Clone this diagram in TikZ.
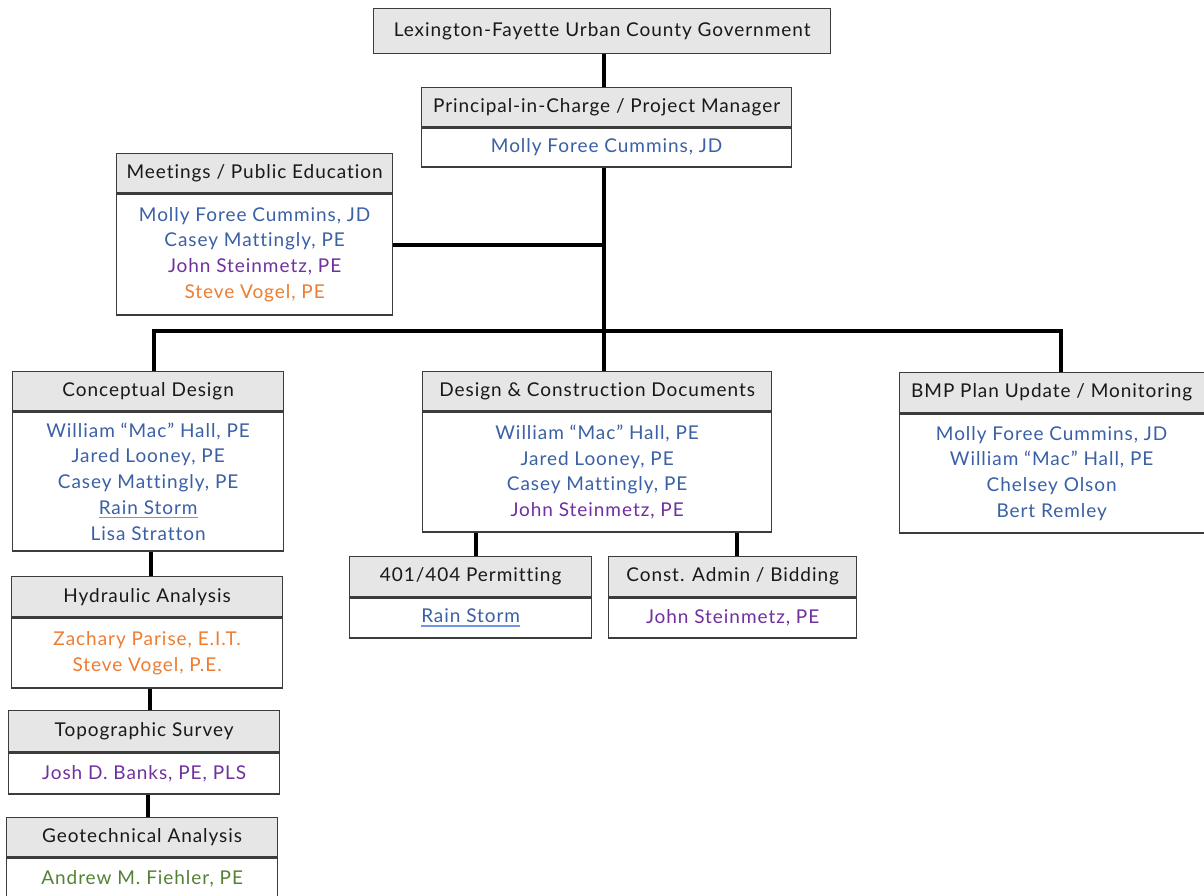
\documentclass[tikz,border=0pt]{standalone}
\usepackage{fontspec}
\newfontfamily\chartfont{Lato}[LetterSpace=5, Ligatures=NoCommon]
\definecolor{hdrfill}{RGB}{230,230,230}
\definecolor{boxline}{RGB}{60,60,60}
\definecolor{pblue}{RGB}{58,96,166}
\definecolor{ppurple}{RGB}{112,48,160}
\definecolor{porange}{RGB}{237,125,49}
\definecolor{pgreen}{RGB}{84,130,53}
\definecolor{ulblue}{RGB}{110,150,225}
\tikzset{
  hdr/.style={draw=boxline, line width=1.3pt, fill=hdrfill, anchor=north west,
    inner sep=0pt, align=center, font=\chartfont\fontsize{19}{22}\selectfont, text=black!90},
  bodybox/.style={draw=boxline, line width=1.3pt, fill=white, anchor=north west,
    inner sep=0pt, align=center, font=\chartfont\fontsize{19}{25.7}\selectfont},
  conn/.style={line width=3.3pt, black}
}
% name with a light blue underline
\newcommand{\ulname}[1]{\leavevmode\setbox0\hbox{#1}%
  \rlap{\textcolor{ulblue}{\rule[-4pt]{\wd0}{1.6pt}}}\box0}
\begin{document}
\begin{tikzpicture}[x=1pt,y=-1pt]
\useasboundingbox[fill=white] (0,0) rectangle (1204,896);

\coordinate (busL) at (154,331);
\coordinate (busM) at (604,331);
\coordinate (busR) at (1061,331);
\coordinate (meetJ) at (604,245);

% top level
\node[hdr, minimum width=457, minimum height=45] (lfucg) at (373,8) {Lexington-Fayette Urban County Government};

\node[hdr, minimum width=370, minimum height=39] (pmH) at (421,87) {Principal-in-Charge / Project Manager};
\node[bodybox, minimum width=370, minimum height=39] (pmB) at (pmH.south west) {\textcolor{pblue}{Molly Foree Cummins, JD}};

\node[hdr, minimum width=276, minimum height=39] (mtH) at (116,153) {Meetings / Public Education};
\node[bodybox, minimum width=276, minimum height=121] (mtB) at (mtH.south west) {\textcolor{pblue}{Molly Foree Cummins, JD}\\\textcolor{pblue}{Casey Mattingly, PE}\\\textcolor{ppurple}{John Steinmetz, PE}\\\textcolor{porange}{Steve Vogel, PE}};

% second level
\node[hdr, minimum width=271, minimum height=39] (cdH) at (12,371) {Conceptual Design};
\node[bodybox, minimum width=271, minimum height=139] (cdB) at (cdH.south west) {\textcolor{pblue}{William “Mac” Hall, PE}\\\textcolor{pblue}{Jared Looney, PE}\\\textcolor{pblue}{Casey Mattingly, PE}\\\textcolor{pblue}{\ulname{Rain Storm}}\\\textcolor{pblue}{Lisa Stratton}};

\node[hdr, minimum width=349, minimum height=39] (dcH) at (422,371) {Design \& Construction Documents};
\node[bodybox, minimum width=349, minimum height=120] (dcB) at (dcH.south west) {\textcolor{pblue}{William “Mac” Hall, PE}\\\textcolor{pblue}{Jared Looney, PE}\\\textcolor{pblue}{Casey Mattingly, PE}\\\textcolor{ppurple}{John Steinmetz, PE}};

\node[hdr, minimum width=305, minimum height=40] (bmH) at (898.5,372) {BMP Plan Update / Monitoring};
\node[bodybox, minimum width=305, minimum height=119] (bmB) at (bmH.south west) {\textcolor{pblue}{Molly Foree Cummins, JD}\\\textcolor{pblue}{William “Mac” Hall, PE}\\\textcolor{pblue}{Chelsey Olson}\\\textcolor{pblue}{Bert Remley}};

% under design & construction
\node[hdr, minimum width=242, minimum height=40] (pmtH) at (349,556) {401/404 Permitting};
\node[bodybox, minimum width=242, minimum height=40] (pmtB) at (pmtH.south west) {\textcolor{pblue}{\ulname{Rain Storm}}};

\node[hdr, minimum width=248, minimum height=40] (caH) at (608,556) {Const. Admin / Bidding};
\node[bodybox, minimum width=248, minimum height=40] (caB) at (caH.south west) {\textcolor{ppurple}{John Steinmetz, PE}};

% left column
\node[hdr, minimum width=271, minimum height=40] (hyH) at (11,576) {Hydraulic Analysis};
\node[bodybox, minimum width=271, minimum height=70] (hyB) at (hyH.south west) {\textcolor{porange}{Zachary Parise, E.I.T.}\\\textcolor{porange}{Steve Vogel, P.E.}};

\node[hdr, minimum width=271, minimum height=41] (tpH) at (8,710) {Topographic Survey};
\node[bodybox, minimum width=271, minimum height=41] (tpB) at (tpH.south west) {\textcolor{ppurple}{Josh D. Banks, PE, PLS}};

\node[hdr, minimum width=271, minimum height=39] (gtH) at (6,817) {Geotechnical Analysis};
\node[bodybox, minimum width=271, minimum height=42] (gtB) at (gtH.south west) {\textcolor{pgreen}{Andrew M. Fiehler, PE}};

% connectors
\draw[conn] (lfucg.south -| busM) -- (pmH.north -| busM);
\draw[conn] (pmB.south -| busM) -- (busM);
\draw[conn] (mtB.east |- meetJ) -- (meetJ);
\draw[conn] ([xshift=-1.65pt]busL) -- ([xshift=1.65pt]busR);
\draw[conn] (busL) -- (busL |- cdH.north);
\draw[conn] (busM) -- (busM |- dcH.north);
\draw[conn] (busR) -- (busR |- bmH.north);
\draw[conn] (pmtH.north -| 476,0) -- (dcB.south -| 476,0);
\draw[conn] (caH.north -| 737,0) -- (dcB.south -| 737,0);
\draw[conn] (cdB.south -| 151,0) -- (hyH.north -| 151,0);
\draw[conn] (hyB.south -| 150,0) -- (tpH.north -| 150,0);
\draw[conn] (tpB.south -| 148,0) -- (gtH.north -| 148,0);
\end{tikzpicture}
\end{document}
